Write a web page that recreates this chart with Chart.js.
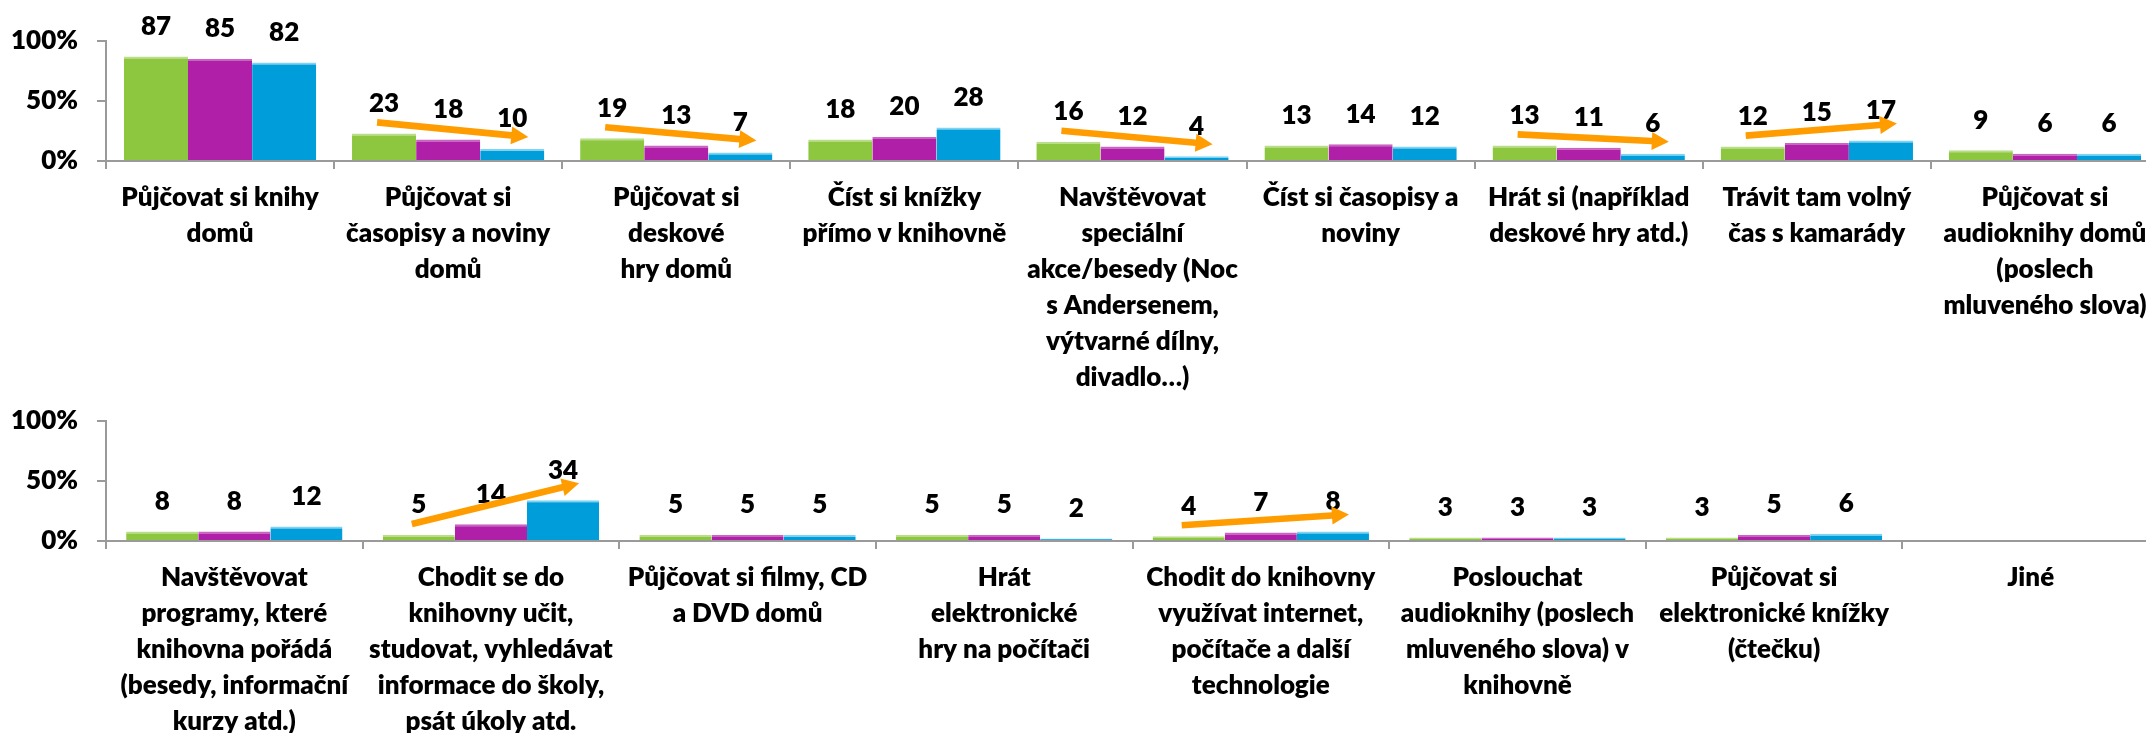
<!DOCTYPE html>
<html lang="cs">
<head>
<meta charset="utf-8">
<title>Co dělají děti v knihovně</title>
<script src="https://cdn.jsdelivr.net/npm/chart.js@4/dist/chart.umd.min.js"></script>
<style>
  html, body { margin: 0; padding: 0; background: #fff; overflow: hidden; }
  body { width: 2146px; height: 733px; position: relative; }
  .chart-box { position: absolute; left: 0; width: 2200px; }
  #topBox { top: 0; height: 420px; }
  #bottomBox { top: 380px; height: 353px; }
</style>
</head>
<body>
<div id="topBox" class="chart-box"><canvas id="topChart"></canvas></div>
<div id="bottomBox" class="chart-box"><canvas id="bottomChart"></canvas></div>
<script>
// upper row
const topCategories = [
  ['Půjčovat si knihy', 'domů'],
  ['Půjčovat si', 'časopisy a noviny', 'domů'],
  ['Půjčovat si', 'deskové', 'hry domů'],
  ['Číst si knížky', 'přímo v knihovně'],
  ['Navštěvovat', 'speciální', 'akce/besedy (Noc', 's Andersenem,', 'výtvarné dílny,', 'divadlo…)'],
  ['Číst si časopisy a', 'noviny'],
  ['Hrát si (například', 'deskové hry atd.)'],
  ['Trávit tam volný', 'čas s kamarády'],
  ['Půjčovat si', 'audioknihy domů', '(poslech', 'mluveného slova)']
];
const topGreen  = [87, 23, 19, 18, 16, 13, 13, 12, 9];
const topPurple = [85, 18, 13, 20, 12, 14, 11, 15, 6];
const topBlue   = [82, 10, 7, 28, 4, 12, 6, 17, 6];
const topArrows = [1, 2, 4, 6, 7];   // categories with a trend arrow

// lower row
const bottomCategories = [
  ['Navštěvovat', 'programy, které', 'knihovna pořádá', '(besedy, informační', 'kurzy atd.)'],
  ['Chodit se do', 'knihovny učit,', 'studovat, vyhledávat', 'informace do školy,', 'psát úkoly atd.'],
  ['Půjčovat si filmy, CD', 'a DVD domů'],
  ['Hrát', 'elektronické', 'hry na počítači'],
  ['Chodit do knihovny', 'využívat internet,', 'počítače a další', 'technologie'],
  ['Poslouchat', 'audioknihy (poslech', 'mluveného slova) v', 'knihovně'],
  ['Půjčovat si', 'elektronické knížky', '(čtečku)'],
  ['Jiné']
];
const bottomGreen  = [8, 5, 5, 5, 4, 3, 3, null];
const bottomPurple = [8, 14, 5, 5, 7, 3, 5, null];
const bottomBlue   = [12, 34, 5, 2, 8, 3, 6, null];
const bottomArrows = [1, 4];

const yTicks = [0, 50, 100];

const GREEN = '#8DC63F';
const PURPLE = '#AF1FA7';
const BLUE = '#009DDB';
const ORANGE = '#FF9C00';
const AXIS = '#9A9A9A';
const FONT = 'Lato';
const WEIGHT = '800';

// numbers above the bars
const valueLabels = {
  id: 'valueLabels',
  afterDatasetsDraw(chart) {
    const ctx = chart.ctx;
    ctx.save();
    ctx.font = `${WEIGHT} 26px ${FONT}`;
    ctx.fillStyle = '#000';
    ctx.textAlign = 'center';
    ctx.textBaseline = 'middle';
    chart.data.datasets.forEach((ds, i) => {
      chart.getDatasetMeta(i).data.forEach((bar, j) => {
        if (ds.data[j] == null) return;
        ctx.fillText(String(ds.data[j]), bar.x, bar.y - 30);
      });
    });
    ctx.restore();
  }
};

function drawArrow(ctx, x0, y0, x1, y1) {
  const len = Math.hypot(x1 - x0, y1 - y0);
  const head = 17, half = 9, shaft = 3.3;
  ctx.save();
  ctx.translate(x0, y0);
  ctx.rotate(Math.atan2(y1 - y0, x1 - x0));
  ctx.fillStyle = ORANGE;
  ctx.beginPath();
  ctx.moveTo(0, -shaft);
  ctx.lineTo(len - head, -shaft);
  ctx.lineTo(len - head, -half);
  ctx.lineTo(len, 0);
  ctx.lineTo(len - head, half);
  ctx.lineTo(len - head, shaft);
  ctx.lineTo(0, shaft);
  ctx.closePath();
  ctx.fill();
  ctx.restore();
}

// orange arrow from the first bar to the last bar of a group
const trendArrows = {
  id: 'trendArrows',
  afterDatasetsDraw(chart, args, opts) {
    const first = chart.getDatasetMeta(0).data;
    const last = chart.getDatasetMeta(2).data;
    (opts.categories || []).forEach(j => {
      const a = first[j], b = last[j];
      const up = b.y < a.y;
      drawArrow(chart.ctx, a.x - 7, a.y - 11, b.x + 16, b.y - (up ? 17 : 12));
    });
  }
};

function makeChart(canvasId, labels, green, purple, blue, arrows, xHeight) {
  const dataset = (name, data, color, edge) => ({
    label: name,
    data: data,
    backgroundColor: color,
    borderColor: edge,
    borderWidth: { top: 2, right: 0, bottom: 0, left: 0 }
  });

  return new Chart(document.getElementById(canvasId), {
    type: 'bar',
    data: {
      labels: labels,
      datasets: [
        dataset('1. stupeň', green, GREEN, '#B9DE8A'),
        dataset('2. stupeň', purple, PURPLE, '#C964C2'),
        dataset('3. stupeň', blue, BLUE, '#7FD3F2')
      ]
    },
    options: {
      responsive: true,
      maintainAspectRatio: false,
      animation: false,
      layout: { padding: { top: 41, right: 41, bottom: 0, left: 0 } },
      datasets: { bar: { categoryPercentage: 0.843, barPercentage: 1 } },
      plugins: {
        legend: { display: false },
        tooltip: { enabled: false },
        trendArrows: { categories: arrows }
      },
      scales: {
        x: {
          grid: { offset: true, drawOnChartArea: false, tickLength: 8, color: AXIS, lineWidth: 2 },
          border: { color: AXIS, width: 2 },
          ticks: {
            color: '#000',
            padding: 11,
            maxRotation: 0,
            minRotation: 0,
            autoSkip: false,
            font: { family: FONT, weight: WEIGHT, size: 26, lineHeight: '36px' }
          },
          afterFit: scale => { scale.height = xHeight; }
        },
        y: {
          min: 0,
          max: 100,
          afterBuildTicks: scale => { scale.ticks = yTicks.map(v => ({ value: v })); },
          grid: { drawOnChartArea: false, tickLength: 9, color: AXIS, lineWidth: 2 },
          border: { color: AXIS, width: 2 },
          ticks: {
            color: '#000',
            padding: 19,
            callback: v => v + '%',
            font: { family: FONT, weight: WEIGHT, size: 26 }
          },
          afterFit: scale => { scale.width = 106; }
        }
      }
    },
    plugins: [valueLabels, trendArrows]
  });
}

makeChart('topChart', topCategories, topGreen, topPurple, topBlue, topArrows, 259);
makeChart('bottomChart', bottomCategories, bottomGreen, bottomPurple, bottomBlue, bottomArrows, 192);
</script>
</body>
</html>
